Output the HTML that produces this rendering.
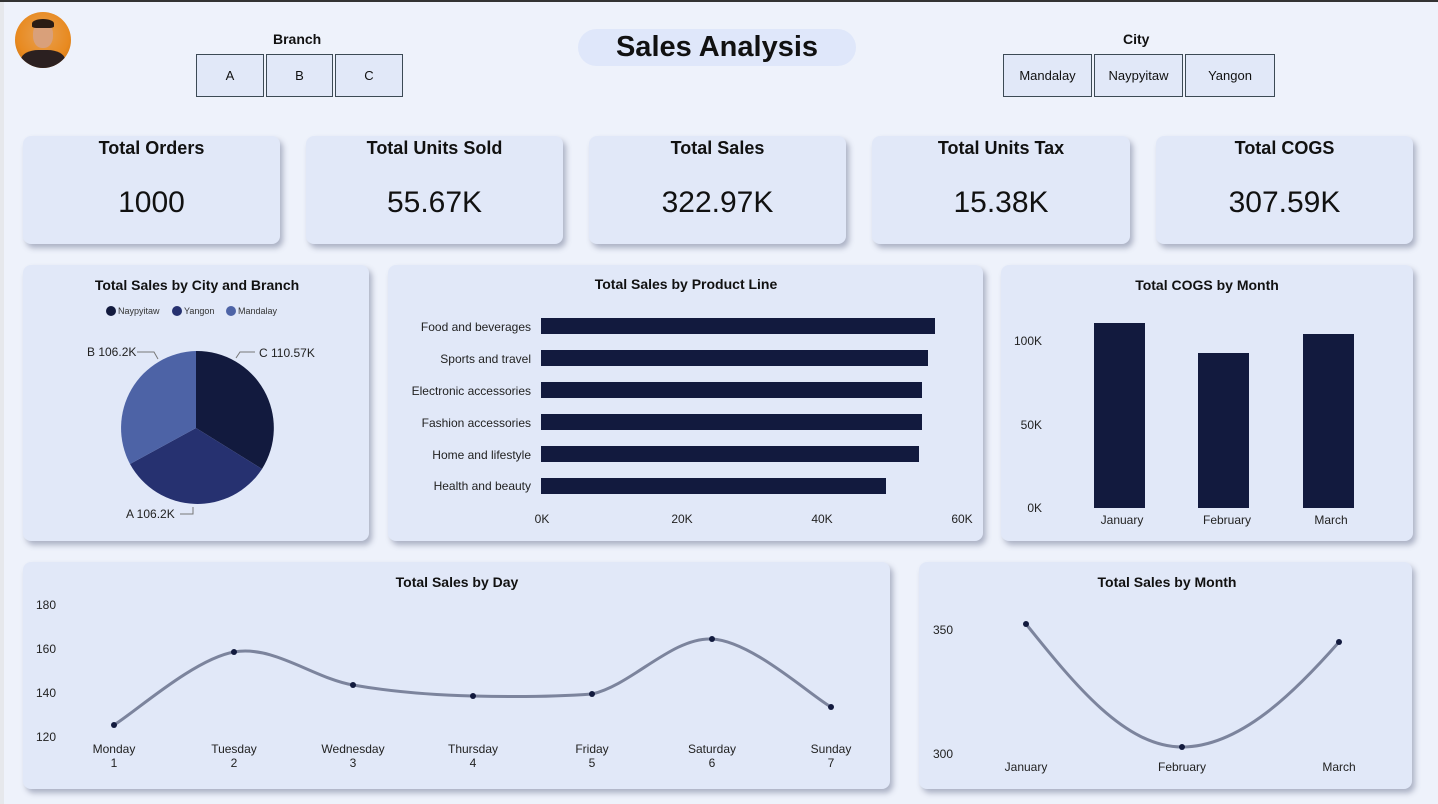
<!DOCTYPE html>
<html><head><meta charset="utf-8"><style>
*{margin:0;padding:0;box-sizing:border-box}
body{width:1438px;height:804px;background:#eef2fb;font-family:"Liberation Sans",Arial,sans-serif;position:relative;overflow:hidden;color:#111}
.card{position:absolute;background:#e1e8f8;border-radius:8px;box-shadow:3px 4px 6px rgba(90,100,130,0.45)}
.btn{position:absolute;border:1.5px solid #3c4a55;background:#e1e8f8;font-size:13px;display:flex;align-items:center;justify-content:center;top:54px;height:43px}
.kt{position:absolute;width:100%;text-align:center;top:2px;font-weight:bold;font-size:18px}
.kv{position:absolute;width:100%;text-align:center;top:50px;font-size:30px}
.lbl{position:absolute;font-weight:bold;font-size:15px}
</style></head><body>
<div style="position:absolute;left:0;top:0;width:1438px;height:2px;background:#333"></div>
<div style="position:absolute;left:0;top:2px;width:4px;height:802px;background:#e6e8ec"></div>
<div style="position:absolute;left:15px;top:12px;width:56px;height:56px;border-radius:50%;background:radial-gradient(circle at 50% 40%,#e8a050 0,#e88a20 60%,#c06a10 100%);overflow:hidden">
<div style="position:absolute;left:18px;top:10px;width:20px;height:26px;border-radius:45%;background:#d9a07a"></div>
<div style="position:absolute;left:17px;top:7px;width:22px;height:9px;border-radius:50% 50% 20% 20%;background:#2a1c14"></div>
<div style="position:absolute;left:6px;top:38px;width:44px;height:24px;border-radius:40% 40% 0 0;background:#2b2020"></div>
</div>
<div class="lbl" style="left:273px;top:31px;font-size:14px">Branch</div>
<div class="btn" style="left:196px;width:68px">A</div>
<div class="btn" style="left:266px;width:67px">B</div>
<div class="btn" style="left:335px;width:68px">C</div>
<div style="position:absolute;left:578px;top:29px;width:278px;height:37px;border-radius:19px;background:#dfe7fa;text-align:center;font-weight:bold;font-size:29px;line-height:37px">Sales Analysis</div>
<div class="lbl" style="left:1123px;top:31px;font-size:14px">City</div>
<div class="btn" style="left:1003px;width:89px">Mandalay</div>
<div class="btn" style="left:1094px;width:89px">Naypyitaw</div>
<div class="btn" style="left:1185px;width:90px">Yangon</div>

<div class="card" style="left:23px;top:136px;width:257px;height:108px"><div class="kt">Total Orders</div><div class="kv">1000</div></div>
<div class="card" style="left:306px;top:136px;width:257px;height:108px"><div class="kt">Total Units Sold</div><div class="kv">55.67K</div></div>
<div class="card" style="left:589px;top:136px;width:257px;height:108px"><div class="kt">Total Sales</div><div class="kv">322.97K</div></div>
<div class="card" style="left:872px;top:136px;width:258px;height:108px"><div class="kt">Total Units Tax</div><div class="kv">15.38K</div></div>
<div class="card" style="left:1156px;top:136px;width:257px;height:108px"><div class="kt">Total COGS</div><div class="kv">307.59K</div></div>

<div class="card" style="left:23px;top:265px;width:346px;height:276px"></div>
<div class="card" style="left:388px;top:265px;width:595px;height:276px"></div>
<div class="card" style="left:1001px;top:265px;width:412px;height:276px"></div>
<div class="card" style="left:23px;top:562px;width:867px;height:227px"></div>
<div class="card" style="left:919px;top:562px;width:493px;height:227px"></div>

<svg width="1438" height="804" style="position:absolute;left:0;top:0" font-family="Liberation Sans, Arial, sans-serif">
<g font-weight="bold" font-size="14" text-anchor="middle" fill="#111">
<text x="197" y="290">Total Sales by City and Branch</text>
<text x="686" y="289">Total Sales by Product Line</text>
<text x="1207" y="290">Total COGS by Month</text>
<text x="457" y="587">Total Sales by Day</text>
<text x="1167" y="587">Total Sales by Month</text>
</g>
<!-- pie legend -->
<g font-size="9" fill="#333">
<circle cx="111" cy="311" r="5" fill="#121a3e"/><text x="118" y="314">Naypyitaw</text>
<circle cx="177" cy="311" r="5" fill="#263170"/><text x="184" y="314">Yangon</text>
<circle cx="231" cy="311" r="5" fill="#4d63a6"/><text x="238" y="314">Mandalay</text>
</g>
<!-- pie -->
<path d="M196,428 L196,351 A77,77 0 0 1 262,469 Z" fill="#121a3e"/>
<path d="M196,428 L262,469 A77,77 0 0 1 130,464 Z" fill="#263170"/>
<path d="M196,428 L130,464 A77,77 0 0 1 196,351 Z" fill="#4d63a6"/>
<g stroke="#777" fill="none" stroke-width="1">
<polyline points="137,352 154,352 158,359"/><polyline points="255,352 240,352 236,358"/><polyline points="180,514 193,514 193,507"/>
</g>
<g font-size="12" fill="#222">
<text x="87" y="356">B 106.2K</text><text x="259" y="357">C 110.57K</text><text x="126" y="518">A 106.2K</text>
</g>
<!-- bars -->
<g fill="#121a3e">
<rect x="541" y="318" width="394" height="16"/>
<rect x="541" y="350" width="387" height="16"/>
<rect x="541" y="382" width="381" height="16"/>
<rect x="541" y="414" width="381" height="16"/>
<rect x="541" y="446" width="378" height="16"/>
<rect x="541" y="478" width="345" height="16"/>
</g>
<g font-size="12" fill="#222" text-anchor="end">
<text x="531" y="331">Food and beverages</text>
<text x="531" y="363">Sports and travel</text>
<text x="531" y="395">Electronic accessories</text>
<text x="531" y="427">Fashion accessories</text>
<text x="531" y="459">Home and lifestyle</text>
<text x="531" y="490">Health and beauty</text>
</g>
<g font-size="12" fill="#222" text-anchor="middle">
<text x="542" y="523">0K</text><text x="682" y="523">20K</text><text x="822" y="523">40K</text><text x="962" y="523">60K</text>
</g>
<!-- columns -->
<g fill="#121a3e">
<rect x="1094" y="323" width="51" height="185"/>
<rect x="1198" y="353" width="51" height="155"/>
<rect x="1303" y="334" width="51" height="174"/>
</g>
<g font-size="12" fill="#222" text-anchor="end">
<text x="1042" y="345">100K</text><text x="1042" y="429">50K</text><text x="1042" y="512">0K</text>
</g>
<g font-size="12" fill="#222" text-anchor="middle">
<text x="1122" y="524">January</text><text x="1227" y="524">February</text><text x="1331" y="524">March</text>
</g>
<!-- day line -->
<g font-size="12" fill="#222" text-anchor="end">
<text x="56" y="609">180</text><text x="56" y="653">160</text><text x="56" y="697">140</text><text x="56" y="741">120</text>
</g>
<path d="M114,725 C134,713 194,659 234,652 C274,645 313,678 353,685 C393,692 433,695 473,696 C513,697 552,697 592,694 C632,685 672,637 712,639 C752,641 811,696 831,707" fill="none" stroke="#7c849d" stroke-width="3"/>
<g fill="#121a3e"><circle cx="114" cy="725" r="3"/><circle cx="234" cy="652" r="3"/><circle cx="353" cy="685" r="3"/><circle cx="473" cy="696" r="3"/><circle cx="592" cy="694" r="3"/><circle cx="712" cy="639" r="3"/><circle cx="831" cy="707" r="3"/></g>
<g font-size="12" fill="#222" text-anchor="middle">
<text x="114" y="753">Monday</text><text x="114" y="767">1</text>
<text x="234" y="753">Tuesday</text><text x="234" y="767">2</text>
<text x="353" y="753">Wednesday</text><text x="353" y="767">3</text>
<text x="473" y="753">Thursday</text><text x="473" y="767">4</text>
<text x="592" y="753">Friday</text><text x="592" y="767">5</text>
<text x="712" y="753">Saturday</text><text x="712" y="767">6</text>
<text x="831" y="753">Sunday</text><text x="831" y="767">7</text>
</g>
<!-- month line -->
<g font-size="12" fill="#222" text-anchor="end"><text x="953" y="634">350</text><text x="953" y="758">300</text></g>
<path d="M1026,624 C1075,685 1125,747 1182,747 C1240,747 1295,692 1339,642" fill="none" stroke="#7c849d" stroke-width="3"/>
<g fill="#121a3e"><circle cx="1026" cy="624" r="3"/><circle cx="1182" cy="747" r="3"/><circle cx="1339" cy="642" r="3"/></g>
<g font-size="12" fill="#222" text-anchor="middle"><text x="1026" y="771">January</text><text x="1182" y="771">February</text><text x="1339" y="771">March</text></g>
</svg>
</body></html>
